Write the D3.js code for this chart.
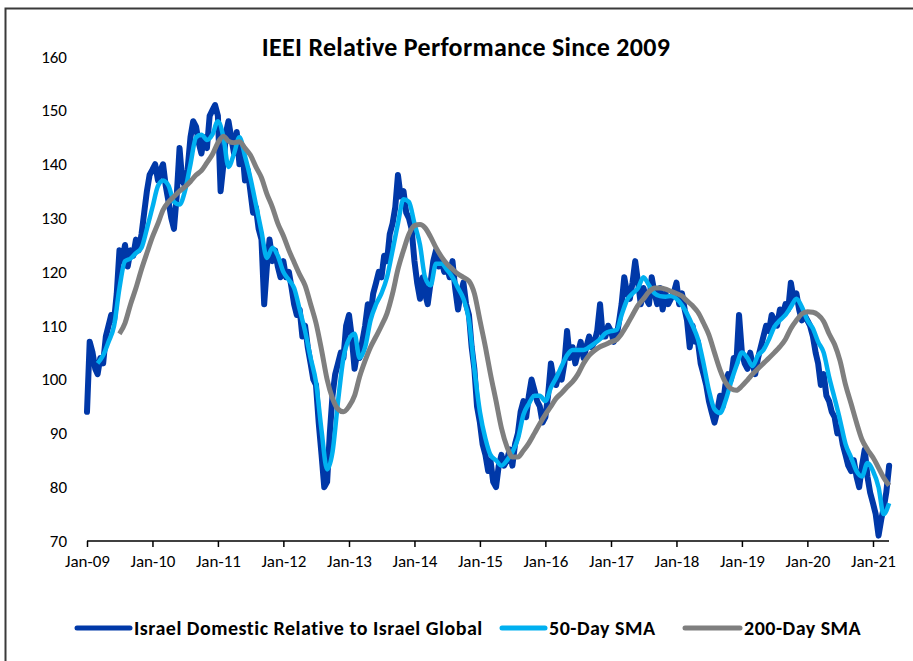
<!DOCTYPE html>
<html>
<head>
<meta charset="utf-8">
<script src="https://cdn.jsdelivr.net/npm/d3@7"></script>
<style>
  body { margin: 0; background: #fff; }
  svg { display: block; font-family: Carlito, Lato, "Open Sans", sans-serif; }
</style>
</head>
<body>
<svg id="chart"></svg>
<script>
// Israel Domestic relative to Israel Global, two readings per month from Jan-09
const domestic = [
    // 2009
    94, 107, 105, 102, 101, 104, 103, 108, 110, 112, 111, 116, 124, 122, 125, 121, 124, 123, 126, 124, 127, 131, 135, 138,
    // 2010
    139, 140, 137, 139, 140, 136, 133, 130, 128, 134, 143, 137, 136, 139, 145, 148, 147, 144, 142, 145, 143, 149, 150, 151,
    // 2011
    149, 135, 140, 146, 148, 145, 142, 146, 140, 143, 137, 139, 135, 131, 132, 128, 126, 114, 121, 126, 122, 124, 121, 119,
    // 2012
    122, 119, 120, 117, 114, 112, 113, 108, 110, 106, 103, 100, 99, 92, 86, 80, 81, 90, 97, 101, 103, 105, 104, 110,
    // 2013
    112, 108, 102, 105, 104, 107, 110, 114, 112, 116, 118, 120, 119, 123, 122, 127, 129, 132, 138, 134, 135, 131, 130, 128,
    // 2014
    122, 118, 115, 119, 116, 114, 118, 122, 124, 121, 122, 120, 121, 119, 122, 117, 113, 116, 118, 114, 112, 106, 102, 95,
    // 2015
    92, 88, 86, 83, 85, 81, 80, 84, 86, 84, 85, 87, 84, 88, 90, 94, 96, 93, 97, 100, 98, 96, 95, 92,
    // 2016
    93, 97, 103, 100, 99, 101, 100, 103, 109, 104, 106, 103, 105, 107, 104, 106, 108, 106, 107, 109, 114, 108, 108, 110,
    // 2017
    109, 107, 108, 111, 114, 119, 116, 115, 118, 122, 118, 114, 117, 115, 114, 119, 116, 114, 117, 113, 116, 114, 115, 116,
    // 2018
    118, 114, 116, 113, 111, 106, 110, 107, 107, 103, 101, 99, 96, 94, 92, 94, 97, 95, 99, 101, 100, 104, 103, 112,
    // 2019
    105, 103, 102, 105, 103, 101, 104, 106, 108, 110, 109, 112, 111, 110, 113, 112, 114, 113, 118, 115, 116, 113, 111, 112,
    // 2020
    111, 110, 108, 105, 103, 99, 101, 97, 96, 94, 93, 90, 91, 88, 86, 84, 83, 85, 82, 80, 84, 87, 82, 79,
    // 2021
    77, 75, 71, 74, 76, 79, 84
];

// 50-day SMA, monthly from Mar-09
const sma50 = [
    103, 104.5, 107, 110, 117, 122, 122.5, 123.5, 124.5, 128,
    132, 136, 137, 136, 133, 132.5, 135, 140, 145, 145.5, 144.5, 145.5,
    148, 145, 139.5, 142, 145, 141.5, 137.5, 132.5, 127.5, 122.6, 124.5, 123,
    120, 118.5, 117, 113, 109, 104, 99.5, 90.5, 83.3, 86.5, 96, 104,
    107.5, 108.5, 104, 106, 111, 114, 116, 119, 124, 129, 133.5, 133,
    129, 125, 119, 117.5, 121.5, 121.5, 120.4, 119, 117, 115, 111, 102,
    94, 89, 86, 85, 84, 85, 86.5, 89, 93.5, 95.5, 97, 97,
    96, 98.5, 100.3, 102.5, 104.5, 105.5, 105.5, 105.5, 106, 106.7, 107.5, 108.6,
    109, 109.2, 112, 114.8, 116, 117, 119, 117.5, 116, 115.5, 115.4, 115.5,
    115, 113.8, 112.2, 110, 107.5, 103, 98, 94.5, 93.8, 96, 99.5, 102.5,
    105, 104, 102.5, 104.5, 105.5, 107.5, 109.8, 111, 112, 113.5, 115, 113.5,
    111, 109.5, 107, 105, 100.5, 96.5, 92.5, 88, 85.5, 83, 82, 84.5,
    83, 80, 75, 77
];

// 200-day SMA, monthly from Jul-09
const sma200 = [
    108.5, 110.5, 114, 117, 120.5, 123.5,
    126.5, 129, 131.5, 133, 134, 135, 135.8, 136.8, 138, 138.8, 140.3, 141.8,
    144, 145.2, 144.3, 144, 144.2, 143, 141.7, 139.5, 137.5, 134.5, 132, 129,
    126.7, 124, 121.8, 119.5, 117.5, 114, 110.5, 105.5, 100, 96.5, 94.5, 94,
    95, 97, 100.5, 103.5, 106, 108, 110, 112.3, 116, 120.5, 124, 127,
    128.6, 128.8, 128.2, 126.5, 124.5, 122.8, 121.5, 120.5, 119.6, 119, 118.3, 116,
    111, 106, 101, 96, 91, 87.5, 85.6, 85.6, 86.8, 88.2, 90, 91.8,
    93.5, 95, 96.5, 97.5, 98.6, 99.6, 101, 103, 104.5, 105.4, 106.1, 106.5,
    107, 107.4, 108.5, 110.2, 112, 113.8, 115, 116.3, 117, 117, 116.8, 116.4,
    116, 115.5, 114.6, 113.7, 112.5, 110.5, 108.3, 105, 101.8, 99.5, 98.3, 98,
    98.8, 99.9, 101, 102, 103, 104, 105, 106.1, 107.5, 109.5, 111, 112.2,
    112.6, 112.5, 112, 110.8, 108.5, 106.5, 103.5, 99, 95.5, 92, 88.8, 87,
    85.5, 83.6, 81.8, 80.3
];

const yTicks = [70, 80, 90, 100, 110, 120, 130, 140, 150, 160];
const xTickYears = [2009, 2010, 2011, 2012, 2013, 2014, 2015, 2016, 2017, 2018, 2019, 2020, 2021];
const seriesNames = ["Israel Domestic Relative to Israel Global", "50-Day SMA", "200-Day SMA"];
const colors = ["#0038A8", "#00B0F0", "#7F7F7F"];

const width = 913, height = 661;

const svg = d3.select("#chart")
    .attr("width", width)
    .attr("height", height);

// outer frame (only top and left visible in the picture)
svg.append("rect")
    .attr("x", 5.5).attr("y", 8.5)
    .attr("width", 940).attr("height", 700)
    .attr("fill", "none")
    .attr("stroke", "#3a3a3a")
    .attr("stroke-width", 2);

const xScale = d3.scaleTime()
    .domain([new Date(2009, 0, 1), new Date(2021, 0, 1)])
    .range([87, 873]);

const yScale = d3.scaleLinear()
    .domain([70, 160])
    .range([541, 56.6]);

// turn the arrays into dated points
const domesticPts = domestic.map((v, i) => ({ date: new Date(2009, Math.floor(i / 2), i % 2 ? 16 : 1), value: v }));
const sma50Pts = sma50.map((v, i) => ({ date: new Date(2009, 2 + i, 1), value: v }));
const sma200Pts = sma200.map((v, i) => ({ date: new Date(2009, 6 + i, 1), value: v }));

// title
svg.append("text")
    .attr("x", 466).attr("y", 56)
    .attr("text-anchor", "middle")
    .style("font-size", "26px")
    .style("font-weight", "bold")
    .style("letter-spacing", "0.3px")
    .text("IEEI Relative Performance Since 2009");

// y axis: labels only
const yAxis = d3.axisLeft(yScale)
    .tickValues(yTicks)
    .tickSize(0)
    .tickPadding(0);

svg.append("g")
    .attr("class", "yAxis")
    .attr("transform", `translate(${67}, 0)`)
    .call(yAxis)
    .call(g => g.select(".domain").remove())
    .call(g => g.selectAll("text")
        .style("font-size", "17px")
        .style("font-family", "Carlito, Lato, 'Open Sans', sans-serif")
        .attr("fill", "#000"));

// x axis
const xAxis = d3.axisBottom(xScale)
    .tickValues(xTickYears.map(y => new Date(y, 0, 1)))
    .tickFormat(d3.timeFormat("%b-%y"))
    .tickSize(6)
    .tickSizeOuter(0)
    .tickPadding(8);

svg.append("g")
    .attr("class", "xAxis")
    .attr("transform", `translate(0, ${541})`)
    .call(xAxis)
    .call(g => g.select(".domain").attr("d", "M87,0H889").attr("stroke", "#000").attr("stroke-width", 1.5))
    .call(g => g.selectAll(".tick line").attr("stroke", "#000").attr("stroke-width", 1.5))
    .call(g => g.selectAll("text")
        .style("font-size", "17px")
        .style("font-family", "Carlito, Lato, 'Open Sans', sans-serif")
        .attr("fill", "#000"));

const line = d3.line()
    .x(d => xScale(d.date))
    .y(d => yScale(d.value));

svg.append("path")
    .datum(domesticPts)
    .attr("d", line)
    .attr("fill", "none")
    .attr("stroke", colors[0])
    .attr("stroke-width", 6)
    .attr("stroke-linejoin", "round")
    .attr("stroke-linecap", "round");

svg.append("path")
    .datum(sma50Pts)
    .attr("d", line.curve(d3.curveMonotoneX))
    .attr("fill", "none")
    .attr("stroke", colors[1])
    .attr("stroke-width", 4.5)
    .attr("stroke-linejoin", "round");

svg.append("path")
    .datum(sma200Pts)
    .attr("d", line.curve(d3.curveMonotoneX))
    .attr("fill", "none")
    .attr("stroke", colors[2])
    .attr("stroke-width", 5)
    .attr("stroke-linejoin", "round");

// legend
const legendX = [77, 502, 685];
const legendLen = [53, 43, 55];
const legend = svg.selectAll("g.legend")
    .data(seriesNames)
    .enter()
        .append("g")
        .attr("class", "legend")
        .attr("transform", (d, i) => `translate(${legendX[i]}, ${628})`);

legend.append("line")
    .attr("x1", 0).attr("x2", (d, i) => legendLen[i])
    .attr("y1", 0).attr("y2", 0)
    .attr("stroke", (d, i) => colors[i])
    .attr("stroke-width", 5)
    .attr("stroke-linecap", "round");

legend.append("text")
    .attr("x", (d, i) => legendLen[i] + 4).attr("y", 7)
    .style("font-size", "20px")
    .style("font-weight", "bold")
    .style("letter-spacing", "0.5px")
    .text(d => d);
</script>
</body>
</html>
